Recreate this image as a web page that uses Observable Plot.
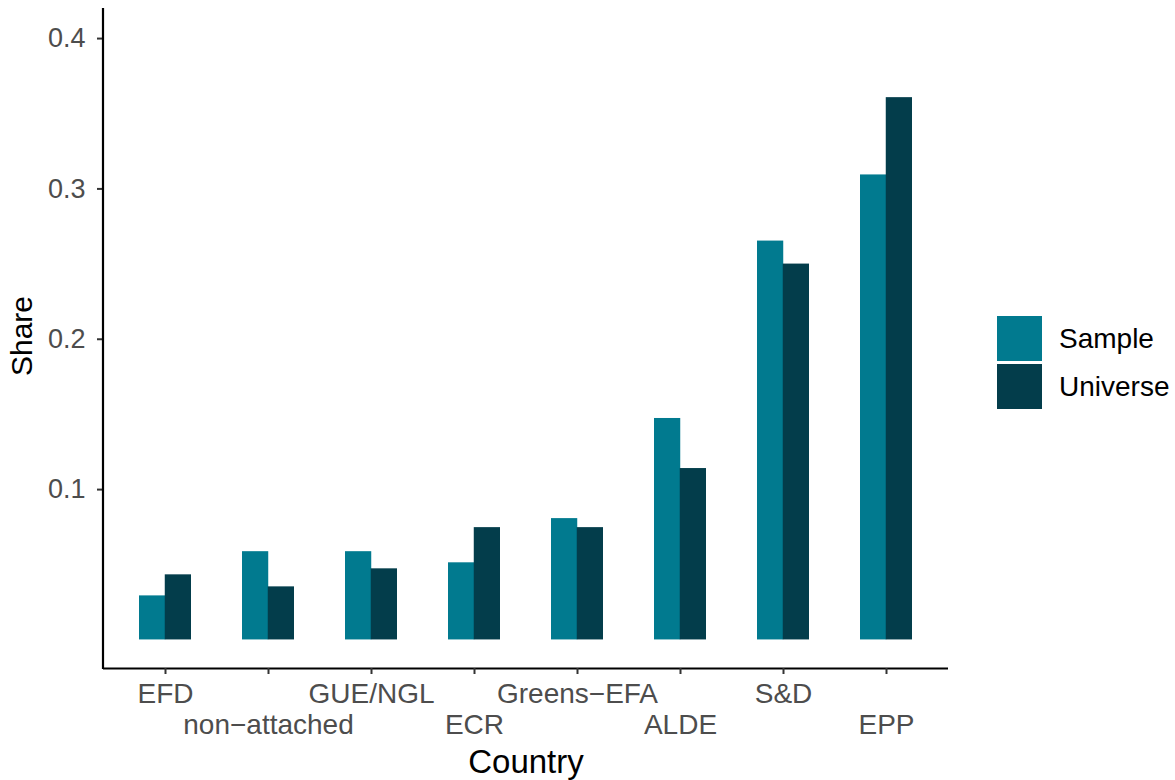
<!DOCTYPE html>
<html>
<head>
<meta charset="utf-8">
<script src="https://cdn.jsdelivr.net/npm/d3@7"></script>
<script src="https://cdn.jsdelivr.net/npm/@observablehq/plot@0.6"></script>
<style>
  body { margin: 0; background: #fff; font-family: "Liberation Sans", Arial, sans-serif; }
  #wrap { position: relative; width: 1175px; height: 780px; overflow: hidden; }
  #wrap svg { position: absolute; left: 0; top: 0; }
  .lbl { position: absolute; color: #000; white-space: nowrap; }
  .key { position: absolute; width: 45px; height: 45px; }
</style>
</head>
<body>
<div id="wrap"></div>
<script>
// ---- data ----
const countries = ["EFD", "non\u2212attached", "GUE/NGL", "ECR", "Greens\u2212EFA", "ALDE", "S&D", "EPP"];
const series = ["Sample", "Universe"];
const sampleValues   = [0.0293, 0.0587, 0.0587, 0.0513, 0.0807, 0.1473, 0.2653, 0.3093];
const universeValues = [0.0433, 0.0353, 0.0473, 0.0747, 0.0747, 0.1140, 0.2500, 0.3607];
const yTicks = [0.1, 0.2, 0.3, 0.4];
const colors = ["#017A8F", "#033D4B"];
const xTitle = "Country";
const yTitle = "Share";

// ---- layout ----
const W = 1175, H = 780, ml = 103, mr = 227, mt = 8, mb = 112;
const yDomain = [-0.019, 0.42];
const pInner = 0.5, pOuter = 0.35;
const step = (W - ml - mr) / (countries.length - pInner + 2 * pOuter);
const half = step * (1 - pInner) / 2;

const rows = countries.flatMap((c, i) => [
  {country: c, series: series[0], value: sampleValues[i]},
  {country: c, series: series[1], value: universeValues[i]}
]);

const chart = Plot.plot({
  width: W, height: H,
  marginTop: mt, marginBottom: mb, marginLeft: ml, marginRight: mr,
  style: {fontFamily: '"Liberation Sans", Arial, sans-serif', fontSize: "28px", color: "#4D4D4D", background: "#fff"},
  x: {domain: countries, paddingInner: pInner, paddingOuter: pOuter},
  y: {domain: yDomain},
  color: {domain: series, range: colors},
  marks: [
    Plot.barY(rows.filter(d => d.series === series[0]), {x: "country", y: "value", fill: "series", insetRight: half}),
    Plot.barY(rows.filter(d => d.series === series[1]), {x: "country", y: "value", fill: "series", insetLeft: half}),
    Plot.ruleY([yDomain[0]], {stroke: "#000", strokeWidth: 2.2}),
    Plot.axisY({ticks: yTicks, tickFormat: d3.format(".1f"), tickSize: 6, tickPadding: 12, fontSize: 27,
      stroke: "#333", fill: "#4D4D4D", strokeWidth: 2, label: null}),
    Plot.axisX({tickFormat: d => countries.indexOf(d) % 2 ? "\n" + d : d, tickSize: 6, tickPadding: 6,
      lineHeight: 1.11, fontSize: 28, stroke: "#333", fill: "#4D4D4D", strokeWidth: 2, label: null})
  ]
});

d3.select(chart).append("line")
  .attr("x1", ml).attr("x2", ml).attr("y1", mt).attr("y2", H - mb + 1)
  .attr("stroke", "#000").attr("stroke-width", 2.2);

const wrap = document.getElementById("wrap");
wrap.appendChild(chart);

function addDiv(cls, text, css) {
  const d = document.createElement("div");
  d.className = cls;
  if (text != null) d.textContent = text;
  Object.assign(d.style, css);
  wrap.appendChild(d);
  return d;
}

// axis titles
addDiv("lbl", xTitle, {left: "426px", width: "200px", textAlign: "center", top: "745px", fontSize: "33px", lineHeight: "33px"});
addDiv("lbl", yTitle, {left: "-78px", width: "200px", textAlign: "center", top: "321px", fontSize: "30px", lineHeight: "30px", transform: "rotate(-90deg)"});

// legend
series.forEach((s, i) => {
  const top = 316 + i * 48;
  addDiv("key", null, {left: "997px", top: top + "px", background: colors[i]});
  addDiv("lbl", s, {left: "1059px", top: (top + 22.5 - 14) + "px", fontSize: "28px", lineHeight: "28px"});
});
</script>
</body>
</html>
